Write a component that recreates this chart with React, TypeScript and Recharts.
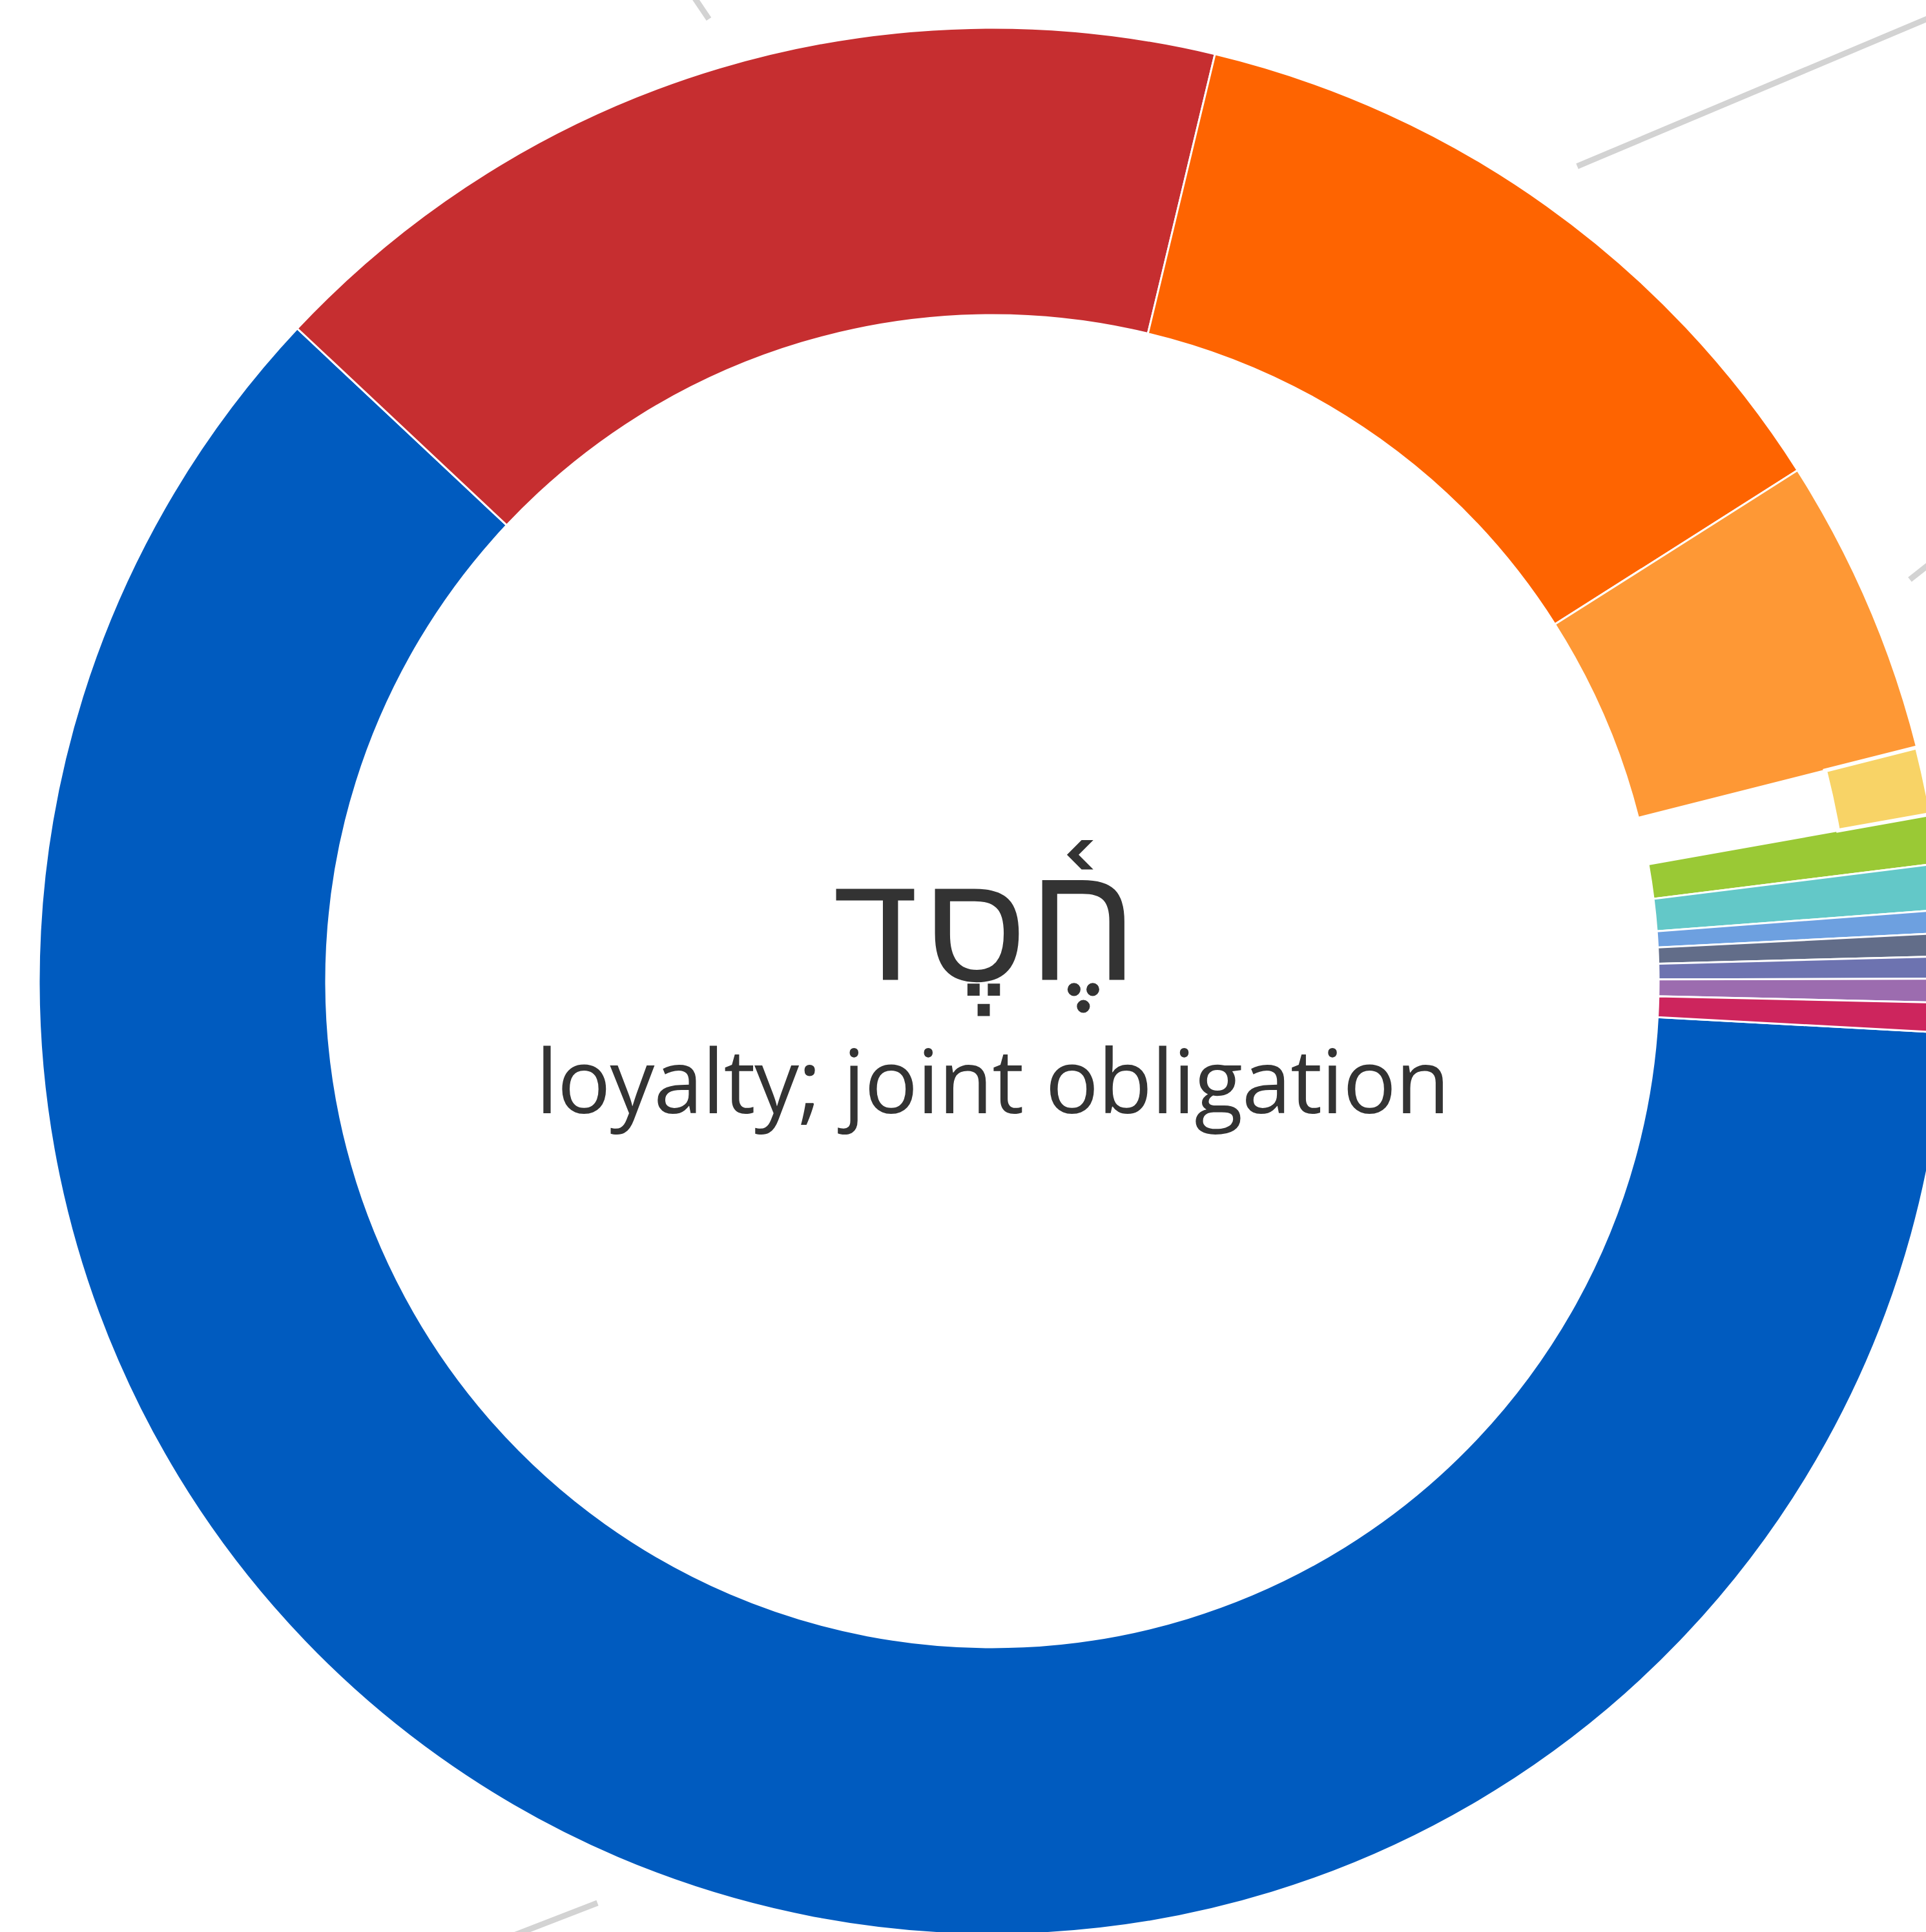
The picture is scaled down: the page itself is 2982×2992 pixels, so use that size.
import React from 'react';
import { PieChart, Pie, Cell, Customized } from 'recharts';

// Share of each sense (in degrees of the ring)
const senses = [
  'Sense 1', 'Sense 2', 'Sense 3', 'Sense 4', 'Sense 5', 'Sense 6',
  'Sense 7', 'Sense 8', 'Sense 9', 'Sense 10', 'Sense 11', 'Sense 12',
];
const shares = [220.1, 60.3, 44.1, 18.2, 4.1, 3.0, 2.8, 1.4, 1.4, 1.35, 1.45, 1.8];
const colors = [
  '#005bbf', '#c62e30', '#fe6401', '#fe9835', '#f8d366', '#9ac935',
  '#63c8c8', '#6da0e0', '#626d89', '#6d73b0', '#9c6caf', '#cd255d',
];
const raisedIndex = 4; // the yellow sense is drawn on a raised inner edge

const headword = 'חֶ֫סֶד';
const gloss = 'loyalty; joint obligation';

const data = senses.map((name, i) => ({ name, value: shares[i] }));

const W = 2982;
const H = 2992;
const CX = 1536.5;
const CY = 1519.5;
const INNER = 1031.5;
const OUTER = 1476.5;
const RAISED_INNER = 1330;
const START = -3.1;

// faint background edges (offsets from the ring centre)
const edges = [
  { x1: -466, y1: -1530, x2: -439, y2: -1490 },
  { x1: 905.5, y1: -1262, x2: 1470, y2: -1500 },
  { x1: 1420.5, y1: -622, x2: 1470, y2: -661 },
  { x1: -611.5, y1: 1427.5, x2: -760, y2: 1485 },
];

const Edges = () => (
  <g>
    {edges.map((e, i) => (
      <line
        key={i}
        x1={CX + e.x1}
        y1={CY + e.y1}
        x2={CX + e.x2}
        y2={CY + e.y2}
        stroke="#d3d3d3"
        strokeWidth={9}
        strokeLinecap="butt"
      />
    ))}
  </g>
);

const CenterText = () => (
  <g>
    <text
      x={CX - 14}
      y={CY - 2}
      textAnchor="middle"
      fill="#333333"
      fontSize={258}
      fontFamily="'DejaVu Sans', sans-serif"
      direction="rtl"
    >
      {headword}
    </text>
    <text
      x={CX}
      y={CY + 204}
      textAnchor="middle"
      fill="#333333"
      fontSize={138}
      fontWeight={500}
      letterSpacing={-1.5}
      fontFamily="'Open Sans', 'Noto Sans', sans-serif"
    >
      {gloss}
    </text>
  </g>
);

export default function App() {
  return (
    <div
      style={{
        position: 'absolute',
        left: 0,
        top: 0,
        width: W,
        height: H,
        overflow: 'hidden',
        background: '#ffffff',
      }}
    >
      <PieChart width={W} height={H} margin={{ top: 0, right: 0, bottom: 0, left: 0 }}>
        <Customized component={Edges} />
        <Pie
          data={data}
          dataKey="value"
          nameKey="name"
          cx={CX}
          cy={CY}
          innerRadius={INNER}
          outerRadius={OUTER}
          startAngle={START}
          endAngle={START - 360}
          isAnimationActive={false}
          stroke="#ffffff"
          strokeWidth={3}
        >
          {data.map((d, i) => (
            <Cell
              key={d.name}
              fill={i === raisedIndex ? 'none' : colors[i]}
              stroke={i === raisedIndex ? 'none' : '#ffffff'}
            />
          ))}
        </Pie>
        <Pie
          data={data}
          dataKey="value"
          nameKey="name"
          cx={CX}
          cy={CY}
          innerRadius={RAISED_INNER}
          outerRadius={OUTER}
          startAngle={START}
          endAngle={START - 360}
          isAnimationActive={false}
        >
          {data.map((d, i) => (
            <Cell
              key={d.name}
              fill={i === raisedIndex ? colors[i] : 'none'}
              stroke={i === raisedIndex ? '#ffffff' : 'none'}
              strokeWidth={i === raisedIndex ? 6 : 0}
            />
          ))}
        </Pie>
        <Customized component={CenterText} />
      </PieChart>
    </div>
  );
}
